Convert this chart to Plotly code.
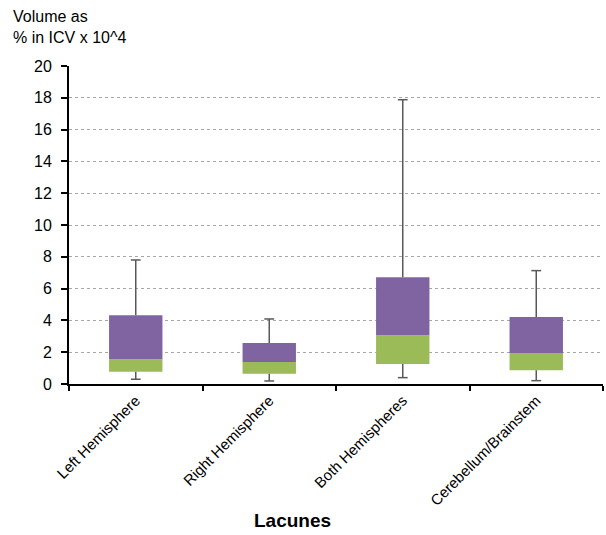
import plotly.graph_objects as go

categories = ["Left Hemisphere", "Right Hemisphere", "Both Hemispheres", "Cerebellum/Brainstem"]
q_min = [0.30, 0.19, 0.40, 0.21]
q1 = [0.77, 0.65, 1.26, 0.86]
median = [1.55, 1.38, 3.06, 1.95]
q3 = [4.32, 2.58, 6.71, 4.21]
q_max = [7.80, 4.09, 17.88, 7.13]

green = "#9BBB59"
purple = "#8064A2"
wcol = "#595959"

fig = go.Figure()
fig.add_trace(go.Bar(x=categories, y=[m - a for m, a in zip(median, q1)], base=q1,
                     marker=dict(color=green, line=dict(width=0)), width=0.4, showlegend=False))
fig.add_trace(go.Bar(x=categories, y=[b - m for b, m in zip(q3, median)], base=median,
                     marker=dict(color=purple, line=dict(width=0)), width=0.4, showlegend=False))

wx, wy = [], []
for c, a, b, lo, hi in zip(categories, q1, q3, q_min, q_max):
    wx += [c, c, None, c, c, None]
    wy += [b, hi, None, a, lo, None]
fig.add_trace(go.Scatter(x=wx, y=wy, mode="lines", line=dict(color=wcol, width=1.5),
                         showlegend=False, hoverinfo="skip"))
fig.add_trace(go.Scatter(x=categories + categories, y=q_max + q_min, mode="markers",
                         marker=dict(symbol="line-ew-open", size=7, color=wcol,
                                     line=dict(color=wcol, width=1.5)),
                         showlegend=False))

fig.update_layout(
    width=606, height=535,
    margin=dict(l=69, r=3, t=66, b=151),
    plot_bgcolor="white", paper_bgcolor="white",
    font=dict(family="Liberation Sans, Arial, sans-serif", color="black"),
    barmode="overlay",
)
fig.update_xaxes(
    type="category", range=[-0.5, 3.5], automargin=False,
    showline=True, linecolor="black", linewidth=2,
    ticks="outside", tickson="boundaries", ticklen=5, tickwidth=2, tickcolor="black",
    tickangle=-45, tickfont=dict(size=15), showgrid=False,
)
fig.update_yaxes(
    range=[0, 20], dtick=2, tick0=0, automargin=False,
    showline=True, linecolor="black", linewidth=2,
    ticks="outside", ticklen=6, tickwidth=1.5, tickcolor="black",
    tickfont=dict(size=16), ticklabelstandoff=6,
    showgrid=True, gridcolor="#A6A6A6", gridwidth=1, griddash="3px,3px",
    zeroline=False,
)
fig.add_annotation(text="Volume as<br>% in ICV x 10^4", xref="paper", yref="paper",
                   x=-0.108, y=1.19, xanchor="left", yanchor="top", showarrow=False, align="left",
                   font=dict(size=16))
fig.add_annotation(text="<b>Lacunes</b>", xref="paper", yref="paper",
                   x=(292 - 69) / 534, y=-(520 - 384) / 318, xanchor="center", yanchor="middle",
                   showarrow=False, font=dict(size=19))
fig.write_html("out.html", config={"displayModeBar": False},
               post_script="document.body.style.margin='0';")
